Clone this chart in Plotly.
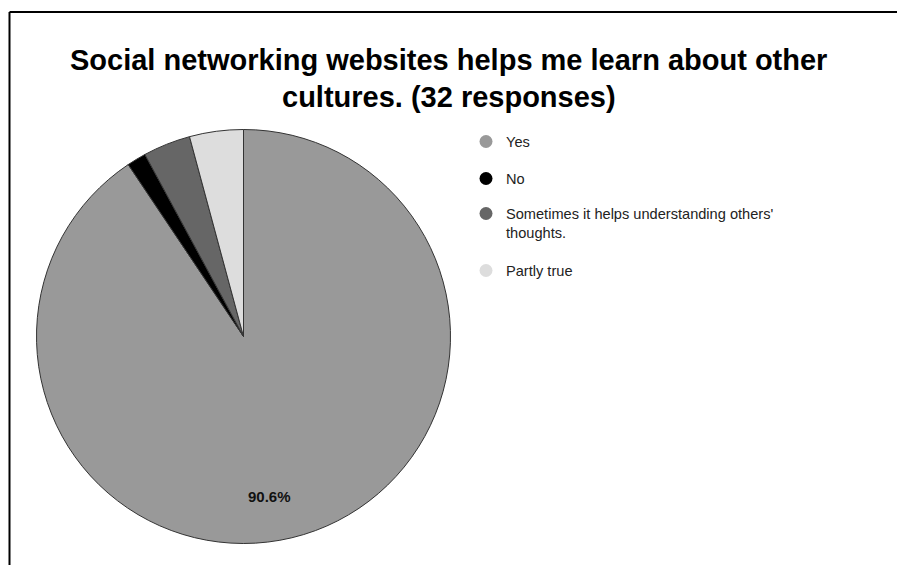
import plotly.graph_objects as go

title_lines = ["Social networking websites helps me learn about other", "cultures. (32 responses)"]
labels = ["Yes", "No", "Sometimes it helps understanding others'<br>thoughts.", "Partly true"]
values = [90.6, 1.5, 3.7, 4.2]
colors = ["#999999", "#000000", "#666666", "#dddddd"]
slice_text = ["90.6%", "", "", ""]

W, H = 897, 565
cx, cy, r = 243.5, 336.5, 207
FONT = "Arial, Liberation Sans, sans-serif"

fig = go.Figure()
fig.add_trace(go.Pie(
    labels=labels, values=values, sort=False, direction="clockwise", rotation=0,
    marker=dict(colors=colors, line=dict(color="#333333", width=1)),
    textinfo="none",
    showlegend=False, hoverinfo="label+percent",
    domain=dict(x=[(cx - r) / W, (cx + r) / W], y=[(H - cy - r) / H, (H - cy + r) / H]),
))

legend_tops = [125.5, 162.5, 197.5, 254.5]
legend_layout = {}
for i, (lab, col) in enumerate(zip(labels, colors)):
    lname = "legend" if i == 0 else f"legend{i + 1}"
    fig.add_trace(go.Scatter(
        x=[None], y=[None], mode="markers", name=lab, legend=lname,
        marker=dict(color=col, size=13, symbol="circle"),
        showlegend=True,
    ))
    legend_layout[lname] = dict(
        x=466 / W, y=1 - legend_tops[i] / H, xanchor="left", yanchor="top",
        font=dict(family=FONT, size=14.6, color="#222222"),
        bgcolor="rgba(0,0,0,0)", valign="top",
    )

annotations = []
for txt, yy in zip(title_lines, [60, 97]):
    annotations.append(dict(
        text=f"<b>{txt}</b>", x=0.5, y=1 - yy / H, xref="paper", yref="paper",
        xanchor="center", yanchor="middle", showarrow=False,
        font=dict(family=FONT, size=29, color="#000000"),
    ))
annotations.append(dict(
    text=f"<b>{slice_text[0]}</b>", x=269 / W, y=1 - 497 / H, xref="paper", yref="paper",
    xanchor="center", yanchor="middle", showarrow=False,
    font=dict(family=FONT, size=15, color="#111111"),
))

fig.update_layout(
    width=W, height=H,
    margin=dict(l=0, r=0, t=0, b=0),
    paper_bgcolor="white", plot_bgcolor="white",
    xaxis=dict(visible=False), yaxis=dict(visible=False),
    annotations=annotations,
    shapes=[
        dict(type="line", xref="paper", yref="paper", x0=9.5 / W, x1=1, y0=1 - 12 / H, y1=1 - 12 / H,
             line=dict(color="#000000", width=2)),
        dict(type="line", xref="paper", yref="paper", x0=9.5 / W, x1=9.5 / W, y0=0, y1=1 - 12 / H,
             line=dict(color="#000000", width=2)),
    ],
    **legend_layout,
)

fig.write_html("out.html")
